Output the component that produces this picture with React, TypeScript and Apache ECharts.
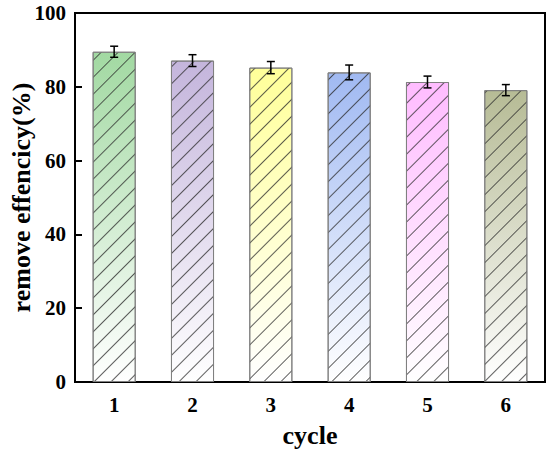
import React, { useEffect, useRef } from "react";
import * as echarts from "echarts";

const categories = ["1", "2", "3", "4", "5", "6"];
const values = [89.5, 87.1, 85.2, 83.9, 81.3, 79.1];
const errors = [1.5, 1.6, 1.65, 2.0, 1.6, 1.5];
const barColors = ["#a2d9a2", "#c4b5dc", "#ffff99", "#a0b9f2", "#ffbcff", "#b6bb95"];
const yTicks = [0, 20, 40, 60, 80, 100];

const FONT = "'Liberation Serif', 'Times New Roman', serif";

export default function App() {
  const ref = useRef<HTMLDivElement>(null);
  useEffect(() => {
    document.body.style.margin = "0";
    if (!ref.current) return;
    const chart = echarts.init(ref.current, null, { renderer: "svg" });
    const option = {
      animation: false,
      grid: {
        left: 75,
        right: 5,
        top: 13,
        bottom: 77,
        containLabel: false,
        outerBoundsMode: "none",
        show: true,
        borderColor: "#000",
        borderWidth: 2,
        backgroundColor: "transparent",
      },
      xAxis: {
        type: "category",
        data: categories,
        name: "cycle",
        nameLocation: "middle",
        nameMoveOverlap: false,
        nameGap: 40,
        nameTextStyle: { fontFamily: FONT, fontWeight: "bold", fontSize: 26, color: "#000" },
        axisLine: { lineStyle: { color: "#000", width: 2 } },
        axisTick: { inside: true, alignWithLabel: true, length: 7, lineStyle: { color: "#000", width: 2 } },
        axisLabel: { fontFamily: FONT, fontWeight: "bold", fontSize: 21, color: "#000", margin: 12 },
      },
      yAxis: {
        type: "value",
        min: yTicks[0],
        max: yTicks[yTicks.length - 1],
        interval: 20,
        name: "remove effencicy(%)",
        nameLocation: "middle",
        nameMoveOverlap: false,
        nameGap: 41,
        nameTextStyle: { fontFamily: FONT, fontWeight: "bold", fontSize: 26, color: "#000" },
        axisLine: { show: true, lineStyle: { color: "#000", width: 2 } },
        axisTick: { show: true, inside: true, length: 7, lineStyle: { color: "#000", width: 2 } },
        axisLabel: { fontFamily: FONT, fontWeight: "bold", fontSize: 21, color: "#000", margin: 9 },
        splitLine: { show: false },
      },
      series: [
        {
          type: "bar",
          barWidth: "55%",
          data: values.map((v, i) => ({
            value: v,
            itemStyle: {
              color: new echarts.graphic.LinearGradient(0, 0, 0, 1, [
                { offset: 0, color: barColors[i] },
                { offset: 1, color: "#ffffff" },
              ]),
              borderColor: "#808080",
              borderWidth: 1,
              decal: {
                symbol: "rect",
                symbolSize: 1,
                dashArrayX: [1, 0],
                dashArrayY: [1, 11],
                rotation: -Math.PI / 4,
                color: "rgba(40,40,40,0.75)",
              },
            },
          })),
        },
        {
          type: "custom",
          data: values.map((v, i) => [i, v, errors[i]]),
          renderItem: (params: any, api: any) => {
            const x = api.value(0);
            const v = api.value(1);
            const e = api.value(2);
            const top = api.coord([x, v + e]);
            const bot = api.coord([x, v - e]);
            const cap = 4;
            const style = { stroke: "#000", lineWidth: 1.5 };
            return {
              type: "group",
              children: [
                { type: "line", shape: { x1: top[0], y1: top[1], x2: bot[0], y2: bot[1] }, style },
                { type: "line", shape: { x1: top[0] - cap, y1: top[1], x2: top[0] + cap, y2: top[1] }, style },
                { type: "line", shape: { x1: bot[0] - cap, y1: bot[1], x2: bot[0] + cap, y2: bot[1] }, style },
              ],
            };
          },
          z: 10,
        },
      ],
    };
    chart.setOption(option as any);
    return () => chart.dispose();
  }, []);
  return <div ref={ref} style={{ width: 550, height: 459 }} />;
}
